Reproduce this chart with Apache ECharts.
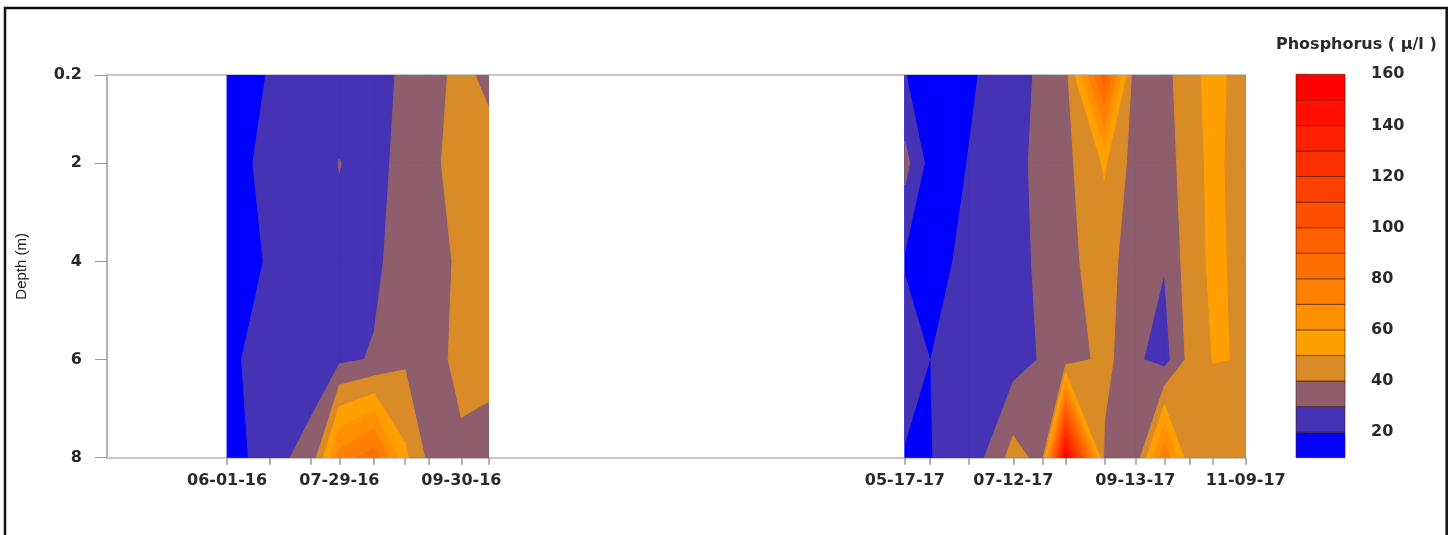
<!DOCTYPE html>
<html>
<head>
<meta charset="utf-8">
<script src="https://cdn.jsdelivr.net/npm/echarts/dist/echarts.min.js"></script>
<style>
  html, body { margin: 0; padding: 0; background: #fff; }
  #chart { width: 1456px; height: 535px; }
</style>
</head>
<body>
<div id="chart"></div>
<script>
// ---------------- DATA ----------------
const depths = [0.2, 2, 4, 6, 8];

const dates2016 = ['2016-06-01','2016-06-23','2016-07-14','2016-07-29','2016-08-16','2016-09-01','2016-09-13','2016-09-30','2016-10-14'];
const p2016_0_2m = [15, 20.5, 25, 27, 28, 31, 37, 42.2, 37.8];
const p2016_2m   = [16, 22.6, 27, 30.15, 27, 33, 38, 43.1, 43.9];
const p2016_4m   = [15, 20.9, 25, 28.5, 28, 34.7, 38, 40.8, 44];
const p2016_6m   = [17, 25.8, 28.5, 28, 30.8, 38.6, 37, 42, 42];
const p2016_8m   = [11, 29, 31, 74, 86, 52, 37.7, 38.6, 37.3];

const dates2017 = ['2017-05-17','2017-05-30','2017-06-19','2017-07-12','2017-07-27','2017-08-08','2017-08-28','2017-09-13','2017-09-28','2017-10-11','2017-10-23','2017-11-09'];
const p2017_0_2m = [20.3, 15, 19, 23.8, 33.1, 36.1, 95, 32, 36.8, 46, 54, 44.2];
const p2017_2m   = [33.3, 16.2, 20.2, 27, 32.8, 37.1, 51, 35.5, 37.2, 42.9, 54, 42.2];
const p2017_4m   = [18.5, 17, 22.1, 27, 31.8, 37.1, 45, 33.4, 30.5, 45, 52, 47.1];
const p2017_6m   = [29, 19.9, 25, 26, 30.9, 33.4, 43.4, 31.6, 26, 43, 50.2, 49.8];
const p2017_8m   = [18.4, 19.8, 22.5, 44, 36.3, 155, 38, 32, 78, 42, 45, 45];

const labeledDates = ['2016-06-01','2016-07-29','2016-09-30','2017-05-17','2017-07-12','2017-09-13','2017-11-09'];
const depthTicks = [0.2, 2, 4, 6, 8];
const levels = [10, 20, 30, 40, 50, 60, 70, 80, 90, 100, 110, 120, 130, 140, 150, 160];
const legendTicks = [20, 40, 60, 80, 100, 120, 140, 160];
const bandColors = ['#0000FF','#4632B4','#8F5E6D','#D98B27','#FFA000','#FF9000','#FF8000','#FF7000','#FF6000','#FF5000','#FF4000','#FF3000','#FF2000','#FF1000','#FF0000'];
const axisStart = '2016-03-31';
const axisEnd = '2017-11-09';
const legendTitle = 'Phosphorus ( \u03bc/l )';
const yTitle = 'Depth (m)';

// ---------------- helpers ----------------
function toMs(s) { const p = s.split('-').map(Number); return Date.UTC(p[0], p[1] - 1, p[2]); }
function fmt(ms) {
  const d = new Date(ms);
  const two = n => (n < 10 ? '0' : '') + n;
  return two(d.getUTCMonth() + 1) + '-' + two(d.getUTCDate()) + '-' + two(d.getUTCFullYear() % 100);
}
const surveys = [
  { times: dates2016.map(toMs), rows: [p2016_0_2m, p2016_2m, p2016_4m, p2016_6m, p2016_8m] },
  { times: dates2017.map(toMs), rows: [p2017_0_2m, p2017_2m, p2017_4m, p2017_6m, p2017_8m] }
];
// one item per (band, cell), ordered by band so higher bands are painted over lower ones
const cellData = [];
for (let b = 0; b < levels.length - 1; b++) {
  surveys.forEach((s, yi) => {
    for (let c = 0; c < s.times.length - 1; c++) {
      for (let r = 0; r < depths.length - 1; r++) {
        cellData.push([s.times[c], depths[r], yi, c, r, b]);
      }
    }
  });
}
function clipAbove(poly, lev) {
  const out = [];
  for (let i = 0; i < poly.length; i++) {
    const a = poly[i], b = poly[(i + 1) % poly.length];
    const ina = a.v >= lev, inb = b.v >= lev;
    if (ina) out.push(a);
    if (ina !== inb) {
      const t = (lev - a.v) / (b.v - a.v);
      out.push({ x: a.x + t * (b.x - a.x), y: a.y + t * (b.y - a.y), v: lev });
    }
  }
  return out;
}
function renderCell(params, api) {
  const s = surveys[api.value(2)];
  const c = api.value(3), r = api.value(4), b = api.value(5);
  const corners = [[c, r], [c + 1, r], [c + 1, r + 1], [c, r + 1]].map(function (q) {
    const p = api.coord([s.times[q[0]], depths[q[1]]]);
    return { x: p[0], y: p[1], v: s.rows[q[1]][q[0]] };
  });
  const poly = clipAbove(corners, levels[b]);
  if (poly.length < 3) return null;
  return {
    type: 'polygon',
    shape: { points: poly.map(p => [p.x, p.y]) },
    style: { fill: bandColors[b], stroke: bandColors[b], lineWidth: 1 }
  };
}
const bandData = [];
for (let b = 0; b < levels.length - 1; b++) bandData.push([0, levels[b], levels[b + 1], b]);
function renderBand(params, api) {
  const p1 = api.coord([0, api.value(1)]);
  const p2 = api.coord([1, api.value(2)]);
  return {
    type: 'rect',
    shape: { x: p1[0], y: p2[1], width: p2[0] - p1[0], height: p1[1] - p2[1] },
    style: { fill: bandColors[api.value(3)], stroke: 'rgba(70,30,10,0.6)', lineWidth: 1 }
  };
}

const labelFont = { fontFamily: 'DejaVu Sans', fontSize: 16, fontWeight: 'bold', color: '#2a2a2a' };

const chart = echarts.init(document.getElementById('chart'), null, { renderer: 'canvas' });
chart.setOption({
  backgroundColor: '#fff',
  animation: false,
  title: {
    text: legendTitle, left: 1271, top: 32,
    textStyle: { fontFamily: 'DejaVu Sans', fontSize: 16, fontWeight: 'bold', color: '#2a2a2a' }
  },
  grid: [
    { left: 107, right: 210.3, top: 75, bottom: 77.3 },
    { left: 1296, width: 49, top: 74.3, bottom: 77.3 }
  ],
  xAxis: [
    {
      type: 'value', gridIndex: 0, min: toMs(axisStart), max: toMs(axisEnd),
      axisLine: { lineStyle: { color: '#c8c8c8', width: 2 } },
      axisTick: { customValues: surveys[0].times.concat(surveys[1].times), length: 7, lineStyle: { color: '#999', width: 1.5 } },
      axisLabel: Object.assign({ customValues: labeledDates.map(toMs), formatter: v => fmt(v), margin: 15 }, labelFont),
      splitLine: { show: false }
    },
    {
      type: 'value', gridIndex: 0, position: 'top', min: toMs(axisStart), max: toMs(axisEnd),
      axisLine: { lineStyle: { color: '#c8c8c8', width: 2 } },
      axisTick: { show: false }, axisLabel: { show: false }, splitLine: { show: false }
    },
    { type: 'value', gridIndex: 1, min: 0, max: 1, show: false }
  ],
  yAxis: [
    {
      type: 'value', gridIndex: 0, inverse: true, min: 0.2, max: 8,
      name: yTitle, nameLocation: 'middle', nameGap: 78,
      nameTextStyle: { fontFamily: 'Liberation Sans Narrow, Liberation Sans', fontSize: 15, color: '#222' },
      axisLine: { show: true, lineStyle: { color: '#b0b0b0', width: 2 } },
      axisTick: { show: true, customValues: depthTicks, length: 12, lineStyle: { color: '#999', width: 1 } },
      axisLabel: Object.assign({ customValues: depthTicks, margin: 25 }, labelFont),
      splitLine: { show: false }
    },
    {
      type: 'value', gridIndex: 0, position: 'right', inverse: true, min: 0.2, max: 8,
      axisLine: { show: true, lineStyle: { color: '#9a8a7a', width: 1 } },
      axisTick: { show: false }, axisLabel: { show: false }, splitLine: { show: false }
    },
    {
      type: 'value', gridIndex: 1, position: 'right', min: 10, max: 160,
      axisLine: { show: false },
      axisTick: { show: true, customValues: legendTicks, length: 12, lineStyle: { color: '#aaa', width: 1 } },
      axisLabel: Object.assign({ customValues: legendTicks, margin: 26 }, labelFont),
      splitLine: { show: false }
    }
  ],
  series: [
    {
      type: 'custom', name: 'Phosphorus', xAxisIndex: 0, yAxisIndex: 0,
      renderItem: renderCell, data: cellData, encode: { x: 0, y: 1 }, clip: true, silent: true
    },
    {
      type: 'custom', name: 'legend', xAxisIndex: 2, yAxisIndex: 2,
      renderItem: renderBand, data: bandData, encode: { x: 0, y: [1, 2] }, silent: true
    }
  ],
  graphic: [
    { type: 'rect', shape: { x: 5, y: 8, width: 1441.7, height: 540 }, style: { fill: 'none', stroke: '#111', lineWidth: 2.5 }, silent: true }
  ]
});
</script>
</body>
</html>
